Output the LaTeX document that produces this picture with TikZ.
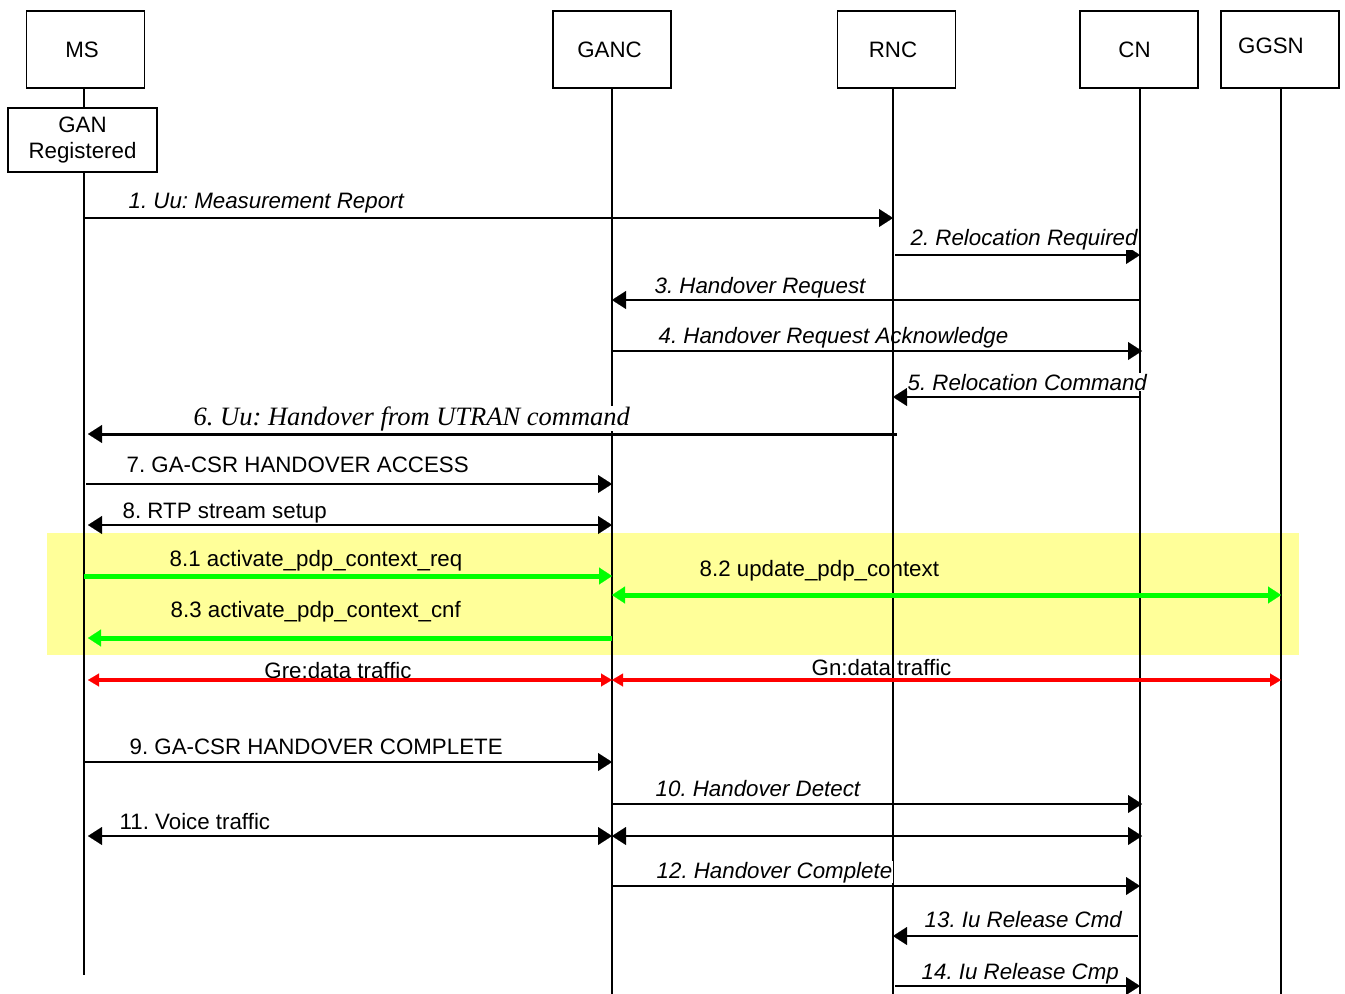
\documentclass[tikz,border=0pt]{standalone}
\usepackage{fontspec}
\setmainfont{Liberation Sans}
\newfontfamily\serifit{Liberation Serif}
\usetikzlibrary{arrows.meta}
\definecolor{ybg}{HTML}{FFFF99}
\definecolor{gline}{HTML}{00FF00}
\definecolor{rline}{HTML}{FF0000}
\begin{document}
\frenchspacing
\begin{tikzpicture}[x=1pt,y=-1pt,
 every node/.style={font=\fontsize{22.3}{26}\selectfont},
 actor/.style={draw, line width=1.3pt, minimum width=118pt, minimum height=77pt, inner sep=0pt},
 life/.style={line width=1.3pt},
 btip/.tip={Triangle[length=14pt,width=18pt,line width=0.1pt]},
 gtip/.tip={Triangle[length=13pt,width=17pt,line width=0.1pt]},
 rtip/.tip={Triangle[length=11pt,width=13pt,line width=0.1pt]},
 msg/.style={line width=1.6pt, -btip},
 dmsg/.style={line width=1.6pt, btip-btip},
 gmsg/.style={line width=5pt, draw=gline, -gtip},
 gdmsg/.style={line width=5pt, draw=gline, gtip-gtip},
 rdmsg/.style={line width=4pt, draw=rline, rtip-rtip},
 lbl/.style={anchor=base west, inner sep=0.5pt},
 ilbl/.style={lbl, font=\fontsize{22.3}{26}\selectfont\itshape},
 wlbl/.style={fill=white},
]
\useasboundingbox (0,0) rectangle (1345,994);
\fill[ybg] (47,533) rectangle (1299,655);

% actors
\node[actor] (MS) at (85.5,49.5) {\hspace*{-7pt}MS};
\node[actor] (GANC) at (612,49.5) {\hspace*{-5pt}GANC};
\node[actor] (RNC) at (896.5,49.5) {\hspace*{-7pt}RNC};
\node[actor] (CN) at (1139,49.5) {\hspace*{-9pt}CN};
\node[actor] (GGSN) at (1280,49.5) {\hspace*{-18pt}\raisebox{7pt}{GGSN}};
\node[draw, line width=1.3pt, minimum width=149pt, minimum height=64pt, inner sep=0pt, align=center, font=\fontsize{22.3}{26}\selectfont] (gan) at (82.5,140) {GAN\\Registered};

% lifeline tops
\coordinate (ms) at (84,88);
\coordinate (ganc) at (612,88);
\coordinate (rnc) at (893,88);
\coordinate (cn) at (1140,88);
\coordinate (ggsn) at (1281,88);

% lifelines
\draw[life] (ms) -- (ms |- gan.north);
\draw[life] (ms |- gan.south) -- (ms |- 0,975);
\draw[life] (ganc) -- (ganc |- 0,994);
\draw[life] (rnc) -- (rnc |- 0,994);
\draw[life] (cn) -- (cn |- 0,994);
\draw[life] (ggsn) -- (ggsn |- 0,994);

% messages
\draw[msg] (ms |- 0,218) -- (rnc |- 0,218);
\node[ilbl] (l1) at (128,208) {1. Uu: Measurement Report};

\draw[msg] ([xshift=2pt]rnc |- 0,255) -- (cn |- 0,255);
\node[ilbl,wlbl] (l2) at (910,245) {2. Relocation Required};

\draw[msg] (cn |- 0,300) -- (ganc |- 0,300);
\node[ilbl] (l3) at (654,293) {3. Handover Request};

\draw[msg] (ganc |- 0,351) -- ([xshift=2pt]cn |- 0,351);
\node[ilbl] (l4) at (658,343) {4. Handover Request Acknowledge};

\draw[msg] (cn |- 0,397) -- (rnc |- 0,397);
\node[ilbl,wlbl] (l5) at (907,390) {5. Relocation Command};

\node[lbl,wlbl,font=\fontsize{26.5}{30}\selectfont\serifit\itshape] (l6) at (193,425) {6. Uu: Handover from UTRAN command};
\draw[line width=3pt, -btip, shorten >=4pt] ([xshift=4pt]rnc |- 0,434) -- (ms |- 0,434);

\draw[msg, shorten <=2pt] (ms |- 0,484) -- (ganc |- 0,484);
\node[lbl] (l7) at (126,472) {7. GA-CSR HANDOVER ACCESS};

\draw[dmsg, shorten <=4pt] (ms |- 0,525) -- (ganc |- 0,525);
\node[lbl] (l8) at (122,518) {8. RTP stream setup};

\draw[gmsg] (ms |- 0,576) -- (ganc |- 0,576);
\node[lbl] (l81) at (169,566) {8.1 activate\_pdp\_context\_req};

\draw[gdmsg] (ganc |- 0,595) -- (ggsn |- 0,595);
\node[lbl] (l82) at (699,576) {8.2 update\_pdp\_context};

\draw[gmsg, shorten >=4pt] (ganc |- 0,638) -- (ms |- 0,638);
\node[lbl] (l83) at (170,617) {8.3 activate\_pdp\_context\_cnf};

\node[anchor=base, inner sep=0.5pt] (lgre) at (338,678) {Gre:data traffic};
\node[lbl] (lgn) at (811,675) {Gn:data traffic};
\draw[rdmsg, shorten <=4pt] (ms |- 0,680) -- (ganc |- 0,680);
\draw[rdmsg] (ganc |- 0,680) -- (ggsn |- 0,680);

\draw[msg] (ms |- 0,762) -- (ganc |- 0,762);
\node[lbl] (l9) at (129,754) {9. GA-CSR HANDOVER COMPLETE};

\draw[msg] (ganc |- 0,804) -- ([xshift=2pt]cn |- 0,804);
\node[ilbl] (l10) at (655,796) {10. Handover Detect};

\draw[dmsg, shorten <=4pt] (ms |- 0,836) -- (ganc |- 0,836);
\draw[dmsg] (ganc |- 0,836) -- ([xshift=2pt]cn |- 0,836);
\node[lbl] (l11) at (119,829) {11. Voice traffic};

\draw[msg] (ganc |- 0,886) -- (cn |- 0,886);
\node[ilbl,wlbl] (l12) at (656,878) {12. Handover Complete};

\draw[msg] ([xshift=-2pt]cn |- 0,936) -- (rnc |- 0,936);
\node[ilbl] (l13) at (924,927) {13. Iu Release Cmd};

\draw[msg] ([xshift=2pt]rnc |- 0,986) -- (cn |- 0,986);
\node[ilbl] (l14) at (921,979) {14. Iu Release Cmp};
\end{tikzpicture}
\end{document}
